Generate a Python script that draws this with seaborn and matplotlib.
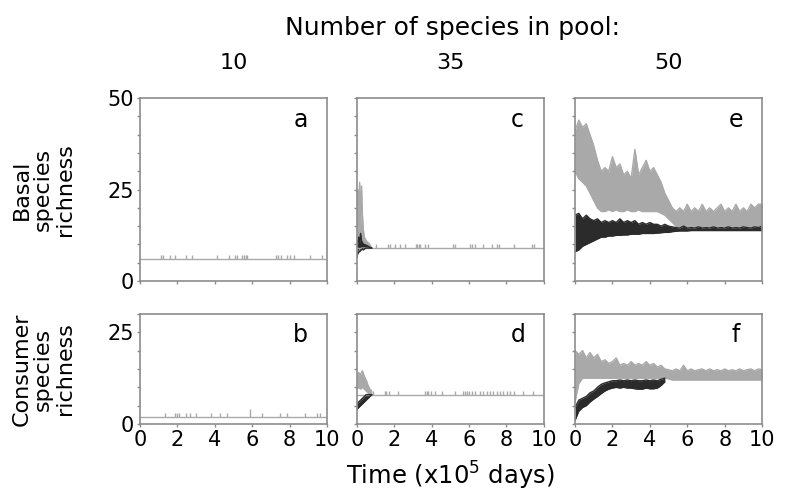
import numpy as np
import matplotlib
matplotlib.use("Agg")
import matplotlib.pyplot as plt
from matplotlib.ticker import MultipleLocator
import seaborn as sns

# ---- data ----
pools = ["10", "35", "50"]
panel_letters = [["a", "c", "e"], ["b", "d", "f"]]

# sampling times (x10^5 days) for the noisy series of pool 50
t = np.linspace(0, 10, 51)

# panel a / b (pool 10): flat richness with short one-species excursions
a_level = 6
a_spikes = [1.12, 1.21, 1.60, 1.87, 2.46, 2.76, 4.10, 4.78, 5.08, 5.17, 5.44,
            5.56, 5.67, 5.74, 7.27, 7.40, 7.52, 7.84, 8.02, 8.24, 9.09, 9.71]
b_level = 2
b_spikes = [1.34, 1.87, 2.00, 2.10, 2.46, 2.67, 2.99, 3.80, 4.28, 4.63, 5.88,
            6.51, 7.49, 7.84, 8.82, 9.45, 9.63]

# panel c (pool 35, basal)
c_level = 9
c_t = [0, 0.05, 0.1, 0.15, 0.2, 0.25, 0.3, 0.35, 0.4, 0.5, 0.6, 0.7, 0.8]
c_grey_hi = [19, 25, 20, 27, 15, 26, 18, 14, 12, 11, 10.5, 10, 9]
c_grey_lo = [7, 8, 8, 8.5, 8.5, 9, 9, 9, 9, 9, 9, 9, 9]
c_black_hi = [11, 10, 12, 10.5, 13, 11, 10.5, 10, 10, 9.8, 9.5, 9.2, 9]
c_black_lo = [6.5, 7.5, 8, 8, 8.5, 8.5, 8.8, 8.5, 8.8, 9, 9, 9, 9]
c_spikes = [1.04, 1.67, 1.76, 2.03, 2.29, 2.56, 3.15, 3.23, 3.30, 3.37, 3.64,
            3.82, 5.16, 5.25, 6.06, 6.18, 6.33, 6.77, 7.22, 7.49, 7.62, 8.39,
            9.37, 9.46]

# panel d (pool 35, consumer)
d_level = 8
d_t = [0, 0.1, 0.2, 0.3, 0.4, 0.5, 0.6, 0.7, 0.8]
d_grey_hi = [13, 14, 13.5, 14.5, 13, 12, 10.5, 9.5, 9]
d_grey_lo = [9.5, 10, 9.5, 10, 9.5, 9, 8.5, 8, 8]
d_black_hi = [5.5, 6, 6.5, 7, 7.5, 8, 8, 8, 8]
d_black_lo = [4, 4.5, 5, 5.5, 6, 6.5, 7, 7.5, 8]
d_spikes = [0.86, 1.49, 1.58, 1.72, 2.20, 3.64, 3.73, 3.82, 3.94, 4.18, 4.53,
            5.25, 5.70, 5.79, 5.91, 6.02, 6.15, 6.33, 6.59, 6.77, 6.95, 7.13,
            7.28, 7.49, 7.67, 7.81, 8.03, 8.21, 8.39, 8.89, 9.43]

# panel e (pool 50, basal): envelopes of the fluctuating series
e_grey_hi = [41, 44, 42, 43, 40, 37, 33, 30, 31, 30,
             34, 31, 32, 29, 30, 28, 36, 29, 31, 33,
             30, 31, 29, 27, 24, 22, 20, 19, 20, 19,
             21, 19, 20, 19, 21, 19, 20, 19, 20, 21,
             19, 20, 19, 21, 19, 20, 19, 21, 20, 21,
             21]
e_grey_lo = [30, 28, 27, 26, 24, 22, 20, 19, 19, 19.5,
             19, 19.5, 19, 19, 19.5, 19, 19, 19.5, 19, 19,
             19, 19, 19, 18.5, 18, 17, 16, 15, 15, 15,
             15, 15, 15, 15, 15, 15, 15, 15, 15, 15,
             15, 15, 15, 15, 15, 15, 15, 15, 15, 15,
             15]
e_black_hi = [18, 18.5, 17, 18, 17, 16.5, 17, 16, 16.5, 16,
              16.5, 16, 17, 16, 16.5, 16, 16.5, 15.5, 16, 15.5,
              16, 15.5, 15.5, 15, 15.5, 15, 14.8, 14.6, 14.5, 15,
              14.5, 14.6, 14.5, 14.8, 14.5, 14.6, 14.5, 14.8, 14.5, 14.6,
              14.5, 14.8, 14.5, 14.6, 14.5, 14.8, 14.6, 14.5, 14.8, 14.6,
              15]
e_black_lo = [8, 8.5, 9.5, 10, 10.5, 11, 11.5, 12, 12, 12.3,
              12.3, 12.5, 12.5, 12.6, 12.6, 12.8, 12.8, 12.8, 13, 13,
              13, 13, 13.1, 13.2, 13.3, 13.3, 13.5, 13.6, 13.7, 13.7,
              13.7, 13.8, 13.8, 13.8, 13.8, 13.8, 13.8, 13.8, 13.8, 13.8,
              13.8, 13.8, 13.8, 13.8, 13.8, 13.8, 13.8, 13.8, 13.8, 13.8,
              13.8]

# panel f (pool 50, consumer)
f_grey_hi = [20, 19, 20, 18, 19.5, 18, 19, 17, 17.5, 16.5,
             17, 18, 16, 16.5, 16, 17, 16, 16.5, 16, 17,
             16, 16.5, 15.5, 16, 15, 14.8, 14.5, 15, 14.5, 16,
             14.5, 15, 14.5, 14.8, 15, 14.5, 15, 14.5, 14.8, 14.5,
             15, 14.5, 14.8, 14.5, 15, 14.5, 14.8, 15, 14.5, 15,
             14.8]
f_grey_lo = [6, 11, 12.5, 12.5, 12.5, 12.5, 12.5, 12.5, 12.5, 12.5,
             12.5, 12.5, 12.5, 12.5, 12.5, 12.5, 12.5, 12.5, 12.5, 12.5,
             12.5, 12.5, 12.5, 12.5, 12.5, 12.3, 12, 12, 12, 12,
             12, 12, 12, 12, 12, 12, 12, 12, 12, 12,
             12, 12, 12, 12, 12, 12, 12, 12, 12, 12,
             12]
# consumer series that went extinct at ~5x10^5 days (first 25 samples)
f_black_hi = [4.5, 6.5, 7, 7.5, 8.5, 9, 10, 10.8, 11.2, 11.5, 11.8, 11.8, 12,
              11.8, 12, 11.8, 12, 11.8, 11.8, 12, 11.8, 12, 11.8, 12.2, 12.5]
f_black_lo = [1, 3.5, 4.5, 5, 6, 6.8, 7.5, 8.3, 9, 9.5, 9.8, 10, 9.8, 10, 9.8,
              9.8, 9.6, 9.5, 9.5, 9.8, 9.6, 9.6, 9.8, 10.5, 11.5]

GREY = "#a9a9a9"
BLACK = "#2b2b2b"
SPINE = "#8c8c8c"

sns.set_style("ticks")
plt.rcParams["font.family"] = ["DejaVu Sans"]
plt.rcParams["text.color"] = "black"
plt.rcParams["xtick.labelcolor"] = "black"
plt.rcParams["ytick.labelcolor"] = "black"


def band(ax, x, lo, hi, color):
    ax.fill_between(x, lo, hi, color=color, lw=0)
    sns.lineplot(x=x, y=hi, ax=ax, color=color, lw=1)
    sns.lineplot(x=x, y=lo, ax=ax, color=color, lw=1)


def flat(ax, level, spikes, color, top=None):
    sns.lineplot(x=[0, 10], y=[level, level], ax=ax, color=color, lw=1)
    tops = [level + 1] * len(spikes) if top is None else top
    ax.vlines(spikes, level, tops, color=color, lw=1)


fig = plt.figure(figsize=(7.86, 4.96), dpi=100)
lefts = [0.178, 0.454, 0.7316]
width = 0.238
rows = [(0.4335, 0.3685, 50), (0.1452, 0.2218, 30)]

axes = [[None] * 3 for _ in range(2)]
for r, (bottom, height, ymax) in enumerate(rows):
    for c in range(3):
        ax = fig.add_axes([lefts[c], bottom, width, height])
        axes[r][c] = ax
        ax.set_xlim(0, 10)
        ax.set_ylim(0, ymax)
        ax.xaxis.set_major_locator(MultipleLocator(2))
        ax.yaxis.set_major_locator(MultipleLocator(25))
        ax.yaxis.set_minor_locator(MultipleLocator(5))
        for s in ax.spines.values():
            s.set_color(SPINE)
            s.set_linewidth(1.2)
        ax.tick_params(which="both", direction="out", length=2.5, width=1,
                       color=SPINE, labelcolor="black", labelsize=15, pad=2)
        if c > 0:
            ax.tick_params(labelleft=False)
        if r == 0:
            ax.tick_params(labelbottom=False)
        ax.set_xlabel("")
        ax.set_ylabel("")
        ax.text(0.86, 0.88 if r == 0 else 0.81, panel_letters[r][c],
                transform=ax.transAxes, ha="center", va="center", fontsize=17,
                color="black")

# pool 10
flat(axes[0][0], a_level, a_spikes, GREY)
b_tops = [3] * len(b_spikes)
b_tops[b_spikes.index(5.88)] = 4
flat(axes[1][0], b_level, b_spikes, GREY, top=b_tops)

# pool 35
flat(axes[0][1], c_level, c_spikes, GREY)
band(axes[0][1], c_t, c_grey_lo, c_grey_hi, GREY)
band(axes[0][1], c_t, c_black_lo, c_black_hi, BLACK)
flat(axes[1][1], d_level, d_spikes, GREY)
band(axes[1][1], d_t, d_grey_lo, d_grey_hi, GREY)
band(axes[1][1], d_t, d_black_lo, d_black_hi, BLACK)

# pool 50
band(axes[0][2], t, e_grey_lo, e_grey_hi, GREY)
band(axes[0][2], t, e_black_lo, e_black_hi, BLACK)
band(axes[1][2], t, f_grey_lo, f_grey_hi, GREY)
band(axes[1][2], t[:len(f_black_hi)], f_black_lo, f_black_hi, BLACK)

# figure texts
fig.text(0.576, 0.944, "Number of species in pool:", ha="center", va="center",
         fontsize=18, color="black")
for c, p in enumerate(pools):
    fig.text(lefts[c] + width / 2, 0.873, p, ha="center", va="center",
             fontsize=16, color="black")
fig.text(0.573, 0.04, "Time (x10$^5$ days)", ha="center", va="center",
         fontsize=17.5, color="black")
fig.text(0.055, 0.4335 + 0.3685 / 2, "Basal\nspecies\nrichness", rotation=90,
         ha="center", va="center", fontsize=16, linespacing=1.1, color="black")
fig.text(0.055, 0.1452 + 0.2218 / 2, "Consumer\nspecies\nrichness", rotation=90,
         ha="center", va="center", fontsize=16, linespacing=1.1, color="black")

fig.savefig("out.png", dpi=100)
